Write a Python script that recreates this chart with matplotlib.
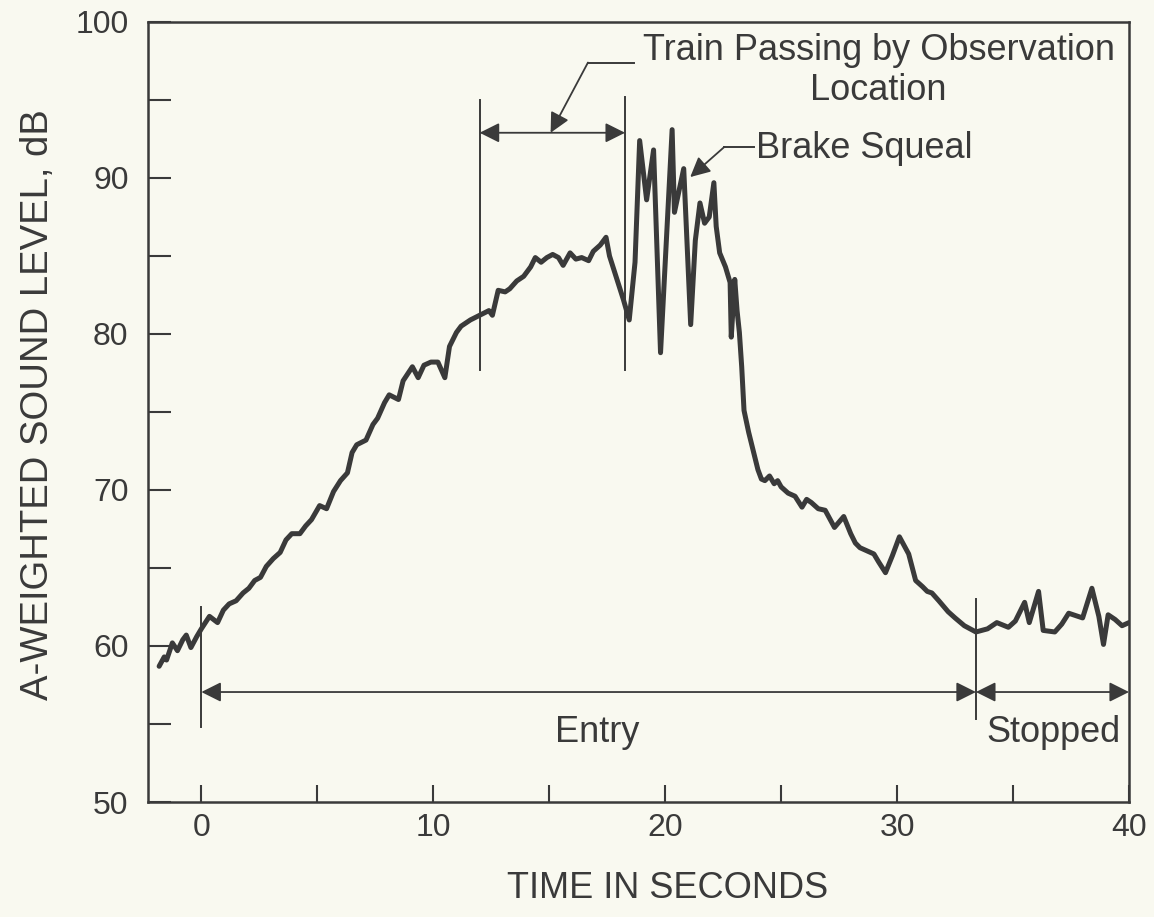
import matplotlib
matplotlib.use('Agg')
import matplotlib.pyplot as plt

# sound level trace
time_s = [-1.82, -1.6, -1.5, -1.25, -1.03, -0.8, -0.65, -0.45, -0.2, 0.0, 0.35, 0.7, 0.95, 1.2,
          1.5, 1.8, 2.05, 2.3, 2.55, 2.8, 3.1, 3.4, 3.65, 3.9, 4.25, 4.5, 4.75, 5.1, 5.4,
          5.7, 6.0, 6.3, 6.5, 6.7, 7.1, 7.4, 7.6, 7.9, 8.1, 8.5, 8.7, 9.1,
          9.35, 9.6, 9.9, 10.2, 10.5, 10.7, 11.0, 11.2, 11.6, 12.0, 12.4, 12.55, 12.8, 13.1, 13.3, 13.6, 13.9,
          14.2, 14.4, 14.65, 14.9, 15.15, 15.4, 15.6, 15.9, 16.15, 16.4, 16.7, 16.9, 17.2, 17.45, 17.6, 18.2, 18.45,
          18.7, 18.9, 19.2, 19.5, 19.8, 20.1, 20.3, 20.4, 20.6, 20.8, 21.1, 21.3, 21.5,
          21.7, 21.9, 22.1, 22.2, 22.35, 22.6, 22.8, 22.85, 23.0, 23.1, 23.2, 23.3, 23.4,
          23.6, 24.0, 24.15, 24.3, 24.5, 24.7, 24.85, 25.0, 25.3, 25.6, 25.9, 26.1, 26.3, 26.6, 26.9, 27.3, 27.7,
          28.0, 28.2, 28.4, 28.7, 29.0, 29.2, 29.5, 29.8, 30.1, 30.5, 30.8, 31.1, 31.3, 31.5, 31.8, 32.2, 32.5,
          32.9, 33.4, 33.9, 34.3, 34.8, 35.1, 35.5, 35.7, 36.1, 36.3, 36.8, 37.1, 37.4,
          38.0, 38.4, 38.7, 38.9, 39.1, 39.4, 39.7, 40.0]
level_db = [58.7, 59.3, 59.1, 60.2, 59.7, 60.4, 60.7, 59.9, 60.6, 61.1, 61.9, 61.5, 62.3, 62.7,
            62.9, 63.4, 63.7, 64.2, 64.4, 65.1, 65.6, 66.0, 66.8, 67.2, 67.2, 67.7, 68.1, 69.0, 68.8,
            69.9, 70.6, 71.1, 72.4, 72.9, 73.2, 74.2, 74.6, 75.6, 76.1, 75.8, 77.0, 77.9,
            77.2, 78.0, 78.2, 78.2, 77.2, 79.2, 80.1, 80.5, 80.9, 81.2, 81.5, 81.2, 82.8, 82.7, 82.9, 83.4, 83.7,
            84.3, 84.9, 84.6, 84.9, 85.1, 84.9, 84.4, 85.2, 84.8, 84.9, 84.7, 85.3, 85.7, 86.2, 85.0, 82.2, 80.9,
            84.6, 92.4, 88.6, 91.8, 78.8, 87.3, 93.1, 87.8, 89.2, 90.6, 80.6, 86.0, 88.4,
            87.1, 87.5, 89.7, 86.9, 85.2, 84.3, 83.3, 79.8, 83.5, 81.5, 80.1, 77.9, 75.1,
            73.7, 71.3, 70.7, 70.6, 70.9, 70.4, 70.6, 70.2, 69.8, 69.6, 68.9, 69.4, 69.2, 68.8, 68.7, 67.6, 68.3,
            67.2, 66.6, 66.3, 66.1, 65.9, 65.4, 64.7, 65.8, 67.0, 65.9, 64.2, 63.8, 63.5, 63.4, 62.9, 62.2, 61.8,
            61.3, 60.9, 61.1, 61.5, 61.2, 61.6, 62.8, 61.5, 63.5, 61.0, 60.9, 61.4, 62.1,
            61.8, 63.7, 61.9, 60.1, 62.0, 61.7, 61.3, 61.5]

x_ticks = [0, 5, 10, 15, 20, 25, 30, 35, 40]
x_labels = ['0', '', '10', '', '20', '', '30', '', '40']
y_ticks = [50, 55, 60, 65, 70, 75, 80, 85, 90, 95, 100]
y_labels = ['50', '', '60', '', '70', '', '80', '', '90', '', '100']

ink = '#3a3a3a'
paper = '#f9f9f0'
plt.rcParams['font.family'] = ['Liberation Sans', 'DejaVu Sans']

fig = plt.figure(figsize=(11.54, 9.17), dpi=100, facecolor=paper)
ax = fig.add_axes([148 / 1154, 115 / 917, 981 / 1154, 780 / 917])
ax.set_facecolor(paper)

ax.plot(time_s, level_db, color=ink, lw=3.6, solid_joinstyle='round', solid_capstyle='round')

ax.set_xlim(-2.3, 40)
ax.set_ylim(50, 100)
ax.set_xticks(x_ticks)
ax.set_xticklabels(x_labels)
ax.set_yticks(y_ticks)
ax.set_yticklabels(y_labels)
ax.tick_params(axis='x', direction='in', length=12.5, width=1.5, color=ink,
               labelsize=23, labelcolor=ink, pad=8)
ax.tick_params(axis='y', direction='in', length=16.5, width=1.5, color=ink,
               labelsize=23, labelcolor=ink, pad=14)
for s in ax.spines.values():
    s.set_linewidth(1.8)
    s.set_color(ink)

ax.set_xlabel('TIME IN SECONDS', fontsize=26, color=ink, labelpad=20)
ax.xaxis.label.set_x(0.53)
ax.set_ylabel('A-WEIGHTED SOUND LEVEL, dB', fontsize=27.5, color=ink, labelpad=14)
ax.yaxis.label.set_y(0.51)

arr = dict(color=ink, lw=1.3, mutation_scale=30, shrinkA=0, shrinkB=0)

# train passing by observation location
ax.plot([12.0, 12.0], [77.7, 95.0], color=ink, lw=1.4)
ax.plot([18.27, 18.27], [77.7, 95.2], color=ink, lw=1.4)
ax.annotate('', xy=(12.0, 92.9), xytext=(18.27, 92.9), arrowprops=dict(arrowstyle='<|-|>', **arr))
ax.plot([18.66, 16.67], [97.4, 97.4], color=ink, lw=1.4)
ax.annotate('', xy=(15.06, 92.9), xytext=(16.67, 97.4), arrowprops=dict(arrowstyle='-|>', **arr))
ax.text(29.2, 95.0, 'Train Passing by Observation\nLocation', ha='center', va='baseline',
        fontsize=26, color=ink, linespacing=1.2)

# brake squeal
ax.plot([22.55, 23.81], [91.99, 91.99], color=ink, lw=1.4)
ax.annotate('', xy=(21.08, 90.06), xytext=(22.55, 91.99), arrowprops=dict(arrowstyle='-|>', **arr))
ax.text(23.9, 91.28, 'Brake Squeal', ha='left', va='baseline', fontsize=26, color=ink)

# entry / stopped
ax.plot([0, 0], [54.8, 62.5], color=ink, lw=1.4)
ax.plot([33.4, 33.4], [55.3, 63.0], color=ink, lw=1.4)
ax.annotate('', xy=(0, 57.05), xytext=(33.4, 57.05), arrowprops=dict(arrowstyle='<|-|>', **arr))
ax.annotate('', xy=(33.4, 57.05), xytext=(40, 57.05), arrowprops=dict(arrowstyle='<|-|>', **arr))
ax.text(17.06, 53.85, 'Entry', ha='center', va='baseline', fontsize=26, color=ink)
ax.text(36.75, 53.85, 'Stopped', ha='center', va='baseline', fontsize=26, color=ink)

fig.savefig('out.png', dpi=100, facecolor=paper)
